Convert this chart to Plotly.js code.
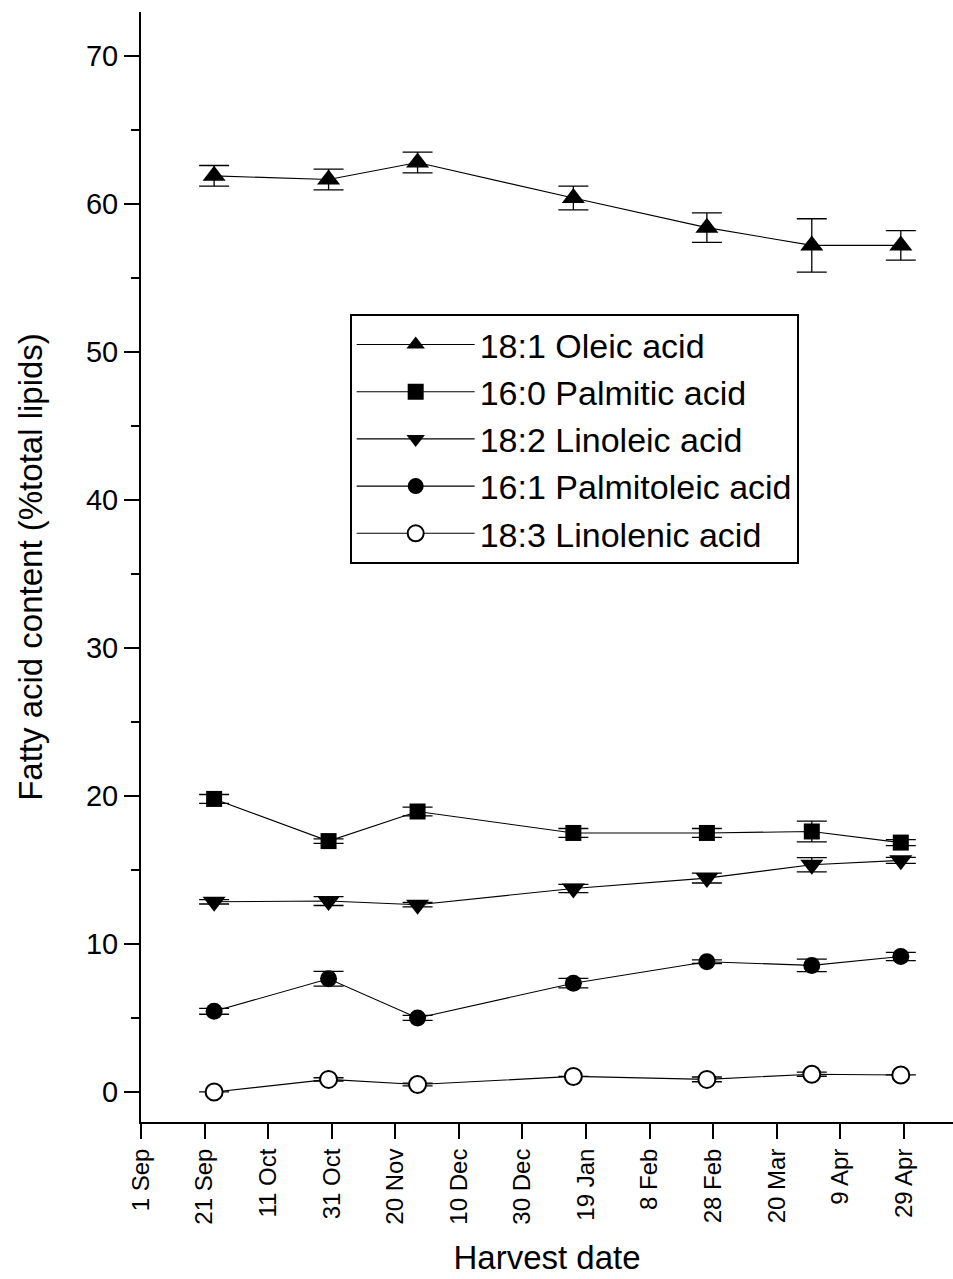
<!DOCTYPE html>
<html>
<head>
<meta charset="utf-8">
<script src="https://cdn.plot.ly/plotly-3.0.1.min.js"></script>
<style>html,body{margin:0;padding:0;background:#fff;}#chart{width:953px;height:1279px;}</style>
</head>
<body>
<div id="chart"></div>
<script>
// Harvest dates (read from the x positions of the points)
const harvestDates = ['2005-09-24','2005-10-30','2005-11-27','2006-01-15','2006-02-26','2006-03-31','2006-04-28'];

// Series values (% total lipids) and error bars
const oleic       = [61.9, 61.65, 62.8, 60.4, 58.4, 57.2, 57.2];
const oleicErr    = [0.7, 0.7, 0.7, 0.8, 1.0, 1.8, 1.0];
const palmitic    = [19.8, 16.95, 18.95, 17.5, 17.5, 17.6, 16.85];
const palmiticErr = [0.3, 0.15, 0.3, 0.3, 0.3, 0.7, 0.2];
const linoleic    = [12.85, 12.9, 12.65, 13.75, 14.45, 15.35, 15.65];
const linoleicErr = [0.15, 0.3, 0.15, 0.28, 0.33, 0.48, 0.2];
const palmitoleic    = [5.45, 7.65, 5.0, 7.35, 8.8, 8.55, 9.15];
const palmitoleicErr = [0.2, 0.5, 0.17, 0.32, 0.12, 0.42, 0.28];
const linolenic    = [0.0, 0.85, 0.5, 1.05, 0.85, 1.2, 1.15];
const linolenicErr = [0, 0.11, 0.09, 0, 0.16, 0.14, 0];

// Names
const seriesNames = ['18:1 Oleic acid','16:0 Palmitic acid','18:2 Linoleic acid','16:1 Palmitoleic acid','18:3 Linolenic acid'];

// X tick positions and labels
const xTickVals = ['2005-09-01','2005-09-21','2005-10-11','2005-10-31','2005-11-20','2005-12-10','2005-12-30','2006-01-19','2006-02-08','2006-02-28','2006-03-20','2006-04-09','2006-04-29'];
const xTickText = ['1 Sep','21 Sep','11 Oct','31 Oct','20 Nov','10 Dec','30 Dec','19 Jan','8 Feb','28 Feb','20 Mar','9 Apr','29 Apr'];

const FONT = 'Liberation Sans, Arial, Helvetica, sans-serif';

function mk(name, y, err, symbol, size, fill) {
  return {
    type: 'scatter', mode: 'lines+markers', name: name,
    x: harvestDates, y: y,
    line: {color: '#000', width: 1.1},
    marker: {symbol: symbol, size: size, color: fill, line: {color: '#000', width: fill === '#fff' ? 2 : 0}},
    error_y: {type: 'data', array: err, visible: true, color: '#000', thickness: 1.3, width: 15},
    cliponaxis: false
  };
}

const data = [
  mk(seriesNames[0], oleic, oleicErr, 'triangle-up', 20, '#000'),
  mk(seriesNames[1], palmitic, palmiticErr, 'square', 16, '#000'),
  mk(seriesNames[2], linoleic, linoleicErr, 'triangle-down', 20, '#000'),
  mk(seriesNames[3], palmitoleic, palmitoleicErr, 'circle', 17, '#000'),
  mk(seriesNames[4], linolenic, linolenicErr, 'circle', 17, '#fff')
];

const layout = {
  width: 953, height: 1279,
  margin: {l: 141, r: 0, t: 12, b: 157},
  paper_bgcolor: '#fff', plot_bgcolor: '#fff',
  font: {family: FONT, color: '#000'},
  showlegend: true,
  legend: {
    x: 0.257, y: 0.728, xanchor: 'left', yanchor: 'top',
    bgcolor: '#fff', bordercolor: '#000', borderwidth: 2,
    font: {family: FONT, size: 34, color: '#000'},
    itemwidth: 118, traceorder: 'normal'
  },
  xaxis: {
    type: 'date',
    range: ['2005-09-01', '2006-05-14 10:00'],
    tickmode: 'array', tickvals: xTickVals, ticktext: xTickText,
    tickangle: -90,
    ticks: 'outside', ticklen: 15, tickwidth: 2, tickcolor: '#000',
    tickfont: {family: FONT, size: 24, color: '#000'},
    showline: true, linecolor: '#000', linewidth: 2,
    showgrid: false, zeroline: false, automargin: false,
    title: {text: 'Harvest date', font: {family: FONT, size: 33, color: '#000'}, standoff: 22}
  },
  yaxis: {
    range: [-2.03, 72.97],
    tickmode: 'linear', tick0: 0, dtick: 10,
    ticks: 'outside', ticklen: 15, tickwidth: 2, tickcolor: '#000',
    minor: {tickmode: 'linear', tick0: 0, dtick: 5, ticks: 'outside', ticklen: 8, tickwidth: 2, tickcolor: '#000', showgrid: false},
    tickfont: {family: FONT, size: 29, color: '#000'},
    showline: true, linecolor: '#000', linewidth: 2,
    showgrid: false, zeroline: false, automargin: false,
    title: {text: 'Fatty acid content (%total lipids)', font: {family: FONT, size: 33, color: '#000'}, standoff: 33}
  }
};

Plotly.newPlot('chart', data, layout, {staticPlot: true, displayModeBar: false});
</script>
</body>
</html>
